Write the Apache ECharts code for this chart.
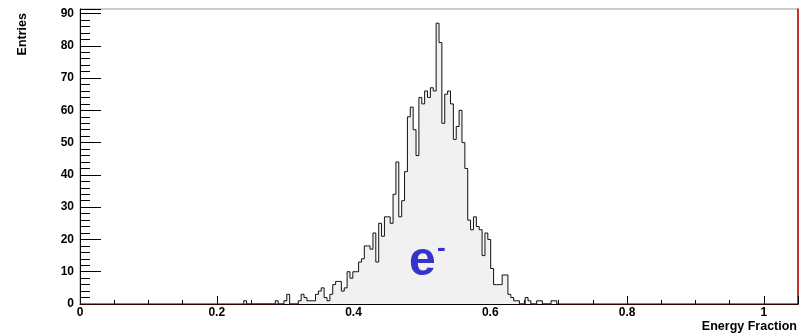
<!DOCTYPE html>
<html><head><meta charset="utf-8">
<script src="https://cdn.jsdelivr.net/npm/echarts@6/dist/echarts.min.js"></script>
<style>html,body{margin:0;padding:0;background:#fff}#c{width:810px;height:336px}</style>
</head><body><div id="c"></div>
<script>
// Histogram: 250 bins of width 0.0042 over [0, 1.05]
const binWidth = 0.0042;
const nBins = 250;
const firstBin = 57; // index of first bin listed in counts
const counts = [
  1,0,0,0,0,0,0,0,0,0,0,1,0,0,1,3,0,0,0,1,   // bins 57-76
  3,2,1,1,1,3,4,5,2,1,3,6,7,7,4,5,10,8,10,10, // bins 77-96
  13,14,18,18,17,22,13,25,21,27,27,25,34,44,27,32,41,58,61,54, // 97-116
  46,64,62,66,64,67,66,87,81,56,65,66,62,51,55,60,50,42,26,23, // 117-136
  27,24,23,15,22,20,11,6,6,6,9,9,3,2,1,1,0,0,2,1,  // 137-156
  0,0,1,1,0,0,0,1,1                              // 157-165
];
const xTickValues = [0, 0.2, 0.4, 0.6, 0.8, 1];
const xTickLabels = ['0', '0.2', '0.4', '0.6', '0.8', '1'];
const yTickValues = [0, 10, 20, 30, 40, 50, 60, 70, 80, 90];
const yTickLabels = ['0', '10', '20', '30', '40', '50', '60', '70', '80', '90'];
const xTitle = 'Energy Fraction';
const yTitle = 'Entries';
const xMax = 1.05, yMax = 91.4;

const FONT = "'Liberation Sans', Arial, Helvetica, sans-serif";

// full bin array
const full = [];
for (let i = 0; i < nBins; i++) {
  const k = i - firstBin;
  full.push(k >= 0 && k < counts.length ? counts[k] : 0);
}
// histogram outline (step)
const histData = [[firstBin * binWidth, 0]];
for (let k = 0; k < counts.length; k++) histData.push([(firstBin + k) * binWidth, counts[k]]);
histData.push([(firstBin + counts.length) * binWidth, counts[counts.length - 1]]);
histData.push([(firstBin + counts.length) * binWidth, 0]);
// red zero line where bins are empty
const zeroData = [];
for (let i = 0; i <= nBins; i++) {
  const left = i === 0 ? 0 : full[i - 1];
  const right = i === nBins ? 0 : full[i];
  zeroData.push([i * binWidth, (left === 0 || right === 0) ? 0 : null]);
}

function labelFor(values, labels) {
  return function (v) {
    for (let i = 0; i < values.length; i++) if (Math.abs(values[i] - v) < 1e-6) return labels[i];
    return '';
  };
}

const chart = echarts.init(document.getElementById('c'), null, {renderer: 'canvas'});
chart.setOption({
  animation: false,
  backgroundColor: '#fff',
  grid: {left: 80, right: 12, top: 9, bottom: 32, show: true, borderColor: '#999', borderWidth: 1, backgroundColor: 'transparent'},
  xAxis: [
    {type: 'value', min: 0, max: xMax, interval: 0.2, position: 'bottom',
     axisLine: {show: true, onZero: false, lineStyle: {color: '#000', width: 1}},
     axisTick: {show: true, inside: true, length: 8, lineStyle: {color: '#000'}},
     axisLabel: {margin: 3, color: '#000', fontFamily: FONT, fontWeight: 'bold', fontSize: 12, formatter: labelFor(xTickValues, xTickLabels)},
     splitLine: {show: false}},
    {type: 'value', min: 0, max: xMax, interval: 0.05, position: 'bottom',
     axisLine: {show: false},
     axisTick: {show: true, inside: true, length: 4, lineStyle: {color: '#000'}},
     axisLabel: {show: false}, splitLine: {show: false}}
  ],
  yAxis: [
    {type: 'value', min: 0, max: yMax, interval: 10, position: 'left',
     axisLine: {show: true, onZero: false, lineStyle: {color: '#000', width: 1}},
     axisTick: {show: true, inside: true, length: 21, lineStyle: {color: '#000'}},
     axisLabel: {margin: 6, color: '#000', fontFamily: FONT, fontWeight: 'bold', fontSize: 12, formatter: labelFor(yTickValues, yTickLabels)},
     splitLine: {show: false}},
    {type: 'value', min: 0, max: yMax, interval: 2, position: 'left',
     axisLine: {show: false},
     axisTick: {show: true, inside: true, length: 10, lineStyle: {color: '#000'}},
     axisLabel: {show: false}, splitLine: {show: false}},
    {type: 'value', min: 0, max: yMax, position: 'right',
     axisLine: {show: true, onZero: false, lineStyle: {color: '#c00000', width: 1.5}},
     axisTick: {show: false}, axisLabel: {show: false}, splitLine: {show: false}}
  ],
  series: [
    {type: 'line', xAxisIndex: 0, yAxisIndex: 0, step: 'end', data: histData,
     symbol: 'none', z: 3,
     lineStyle: {color: '#111', width: 1},
     areaStyle: {color: '#f1f1f1', opacity: 1, origin: 'start'}},
    {type: 'line', xAxisIndex: 0, yAxisIndex: 0, data: zeroData, connectNulls: false,
     symbol: 'none', z: 4, lineStyle: {color: '#c00000', width: 1.2}}
  ],
  graphic: [
    {type: 'text', left: 409, top: 238, z: 10, style: {text: 'e', fill: '#3434cc', font: 'bold 48px ' + FONT}},
    {type: 'text', left: 437, top: 236, z: 10, style: {text: '-', fill: '#3434cc', font: 'bold 26px ' + FONT}},
    {type: 'text', x: 23, y: 13, rotation: Math.PI / 2, z: 10,
     style: {text: yTitle, fill: '#000', font: 'bold 12.5px ' + FONT, align: 'right', verticalAlign: 'middle'}},
    {type: 'text', x: 797, y: 327, z: 10,
     style: {text: xTitle, fill: '#000', font: 'bold 12.5px ' + FONT, align: 'right', verticalAlign: 'middle'}}
  ]
});
</script>
</body></html>
